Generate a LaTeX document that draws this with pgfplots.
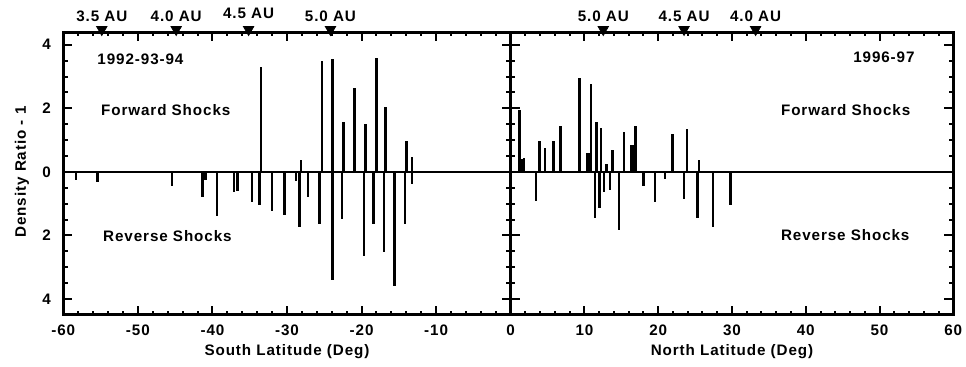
\documentclass[border=0pt]{standalone}
\usepackage{fontspec}
\setmainfont{Liberation Sans}[LetterSpace=6]
\usepackage{pgfplots}
\pgfplotsset{compat=1.18}
\newcommand{\ff}{\fontsize{7.6}{9}\selectfont\bfseries}

\pgfplotstableread{
x y
-58.3 -0.26
-55.4 -0.32
-45.4 -0.45
-41.3 -0.79
-40.97 -0.27
-39.4 -1.40
-37.1 -0.63
-36.6 -0.60
-34.7 -0.95
-33.7 -1.03
-33.5 3.30
-32.0 -1.23
-30.36 -1.37
-28.8 -0.28
-28.34 -1.74
-28.1 0.37
-27.2 -0.79
-25.65 -1.65
-25.3 3.48
-23.9 3.55
-23.9 -3.41
-22.6 -1.49
-22.4 1.58
-20.95 2.63
-19.65 -2.63
-19.5 1.50
-18.4 -1.65
-18.0 3.58
-17.0 -2.53
-16.8 2.05
-15.6 -3.60
-14.2 -1.65
-14.0 0.98
-13.25 0.46
-13.25 -0.39
}\south

\pgfplotstableread{
x y
1.17 1.95
1.49 0.40
1.80 0.45
3.43 -0.92
3.88 0.97
4.65 0.76
5.78 0.98
6.77 1.45
9.30 2.96
10.40 0.58
10.65 0.58
10.88 2.77
11.42 -1.44
11.65 1.58
12.00 -1.14
12.24 1.37
12.64 -0.63
13.00 0.26
13.45 -0.56
13.80 0.68
14.70 -1.84
15.35 1.24
16.40 0.86
16.60 0.86
16.90 1.45
17.97 -0.45
19.55 -0.95
20.90 -0.23
21.90 1.18
23.50 -0.84
23.90 1.35
25.30 -1.44
25.55 0.37
27.45 -1.74
29.80 -1.05
}\north

\pgfplotsset{
  panel/.style={
    scale only axis, height=141.5pt, ymin=-4.5, ymax=4.4,
    axis line style={line width=1.5pt},
    every tick/.style={black, line width=1pt},
    major tick length=4.5pt, minor tick length=2.2pt,
    tick align=inside,
    ytick={-4,-2,0,2,4},
    minor y tick num=3,
    minor x tick num=4,
    clip=false,
    tick label style={font=\ff},
    xticklabel style={anchor=base, yshift=-10.5pt},
    every axis x label/.style={at={(axis description cs:0.5,0)}, anchor=base, yshift=-20.5pt, font=\ff},
  },
  spikes/.style={ycomb, black, line width=1.3pt, mark=none},
  au/.style={only marks, mark=triangle*, mark size=3pt, black,
    mark options={rotate=180, fill=black},
    nodes near coords, point meta=explicit symbolic,
    every node near coord/.style={anchor=base, yshift=4pt, inner sep=0pt, font=\ff}},
}

\begin{document}
\begin{tikzpicture}
\path[use as bounding box] (0,0) rectangle (483pt,183.5pt);

\begin{axis}[panel, at={(31.65pt,26pt)}, anchor=south west, width=223.7pt,
  xmin=-60, xmax=0,
  xtick={-60,-50,-40,-30,-20,-10,0},
  xticklabels={-60,-50,-40,-30,-20,-10,{}},
  yticklabels={4,2,0,2,4},
  yticklabel style={xshift=-2.7pt},
  xlabel={South Latitude (Deg)}]
  \addplot[black, line width=1.2pt] coordinates {(-60,0) (0,0)};
  \addplot[spikes] table[x=x, y=y] {\south};
  \addplot[au] coordinates {(-54.84,4.48)[3.5 AU] (-44.86,4.48)[4.0 AU] (-24.17,4.48)[5.0 AU]};
  \addplot[au, every node near coord/.append style={yshift=1.3pt}] coordinates {(-35.15,4.48)[4.5 AU]};
  \node[anchor=base west, font=\ff, inner sep=0pt] at (axis cs:-55.47,3.37) {1992-93-94};
  \node[anchor=base west, font=\ff, inner sep=0pt] at (axis cs:-54.98,1.76) {Forward Shocks};
  \node[anchor=base west, font=\ff, inner sep=0pt] at (axis cs:-54.7,-2.18) {Reverse Shocks};
\end{axis}

\begin{axis}[panel, at={(255.35pt,26pt)}, anchor=south west, width=221.3pt,
  xmin=0, xmax=60,
  xtick={0,10,20,30,40,50,60},
  xticklabels={0,10,20,30,40,50,60},
  yticklabels={},
  xlabel={North Latitude (Deg)}]
  \addplot[black, line width=1.2pt] coordinates {(0,0) (60,0)};
  \addplot[spikes] table[x=x, y=y] {\north};
  \addplot[au] coordinates {(12.55,4.48)[5.0 AU] (23.5,4.48)[4.5 AU] (33.2,4.48)[4.0 AU]};
  \node[anchor=base east, font=\ff, inner sep=0pt] at (axis cs:54.8,3.45) {1996-97};
  \node[anchor=base west, font=\ff, inner sep=0pt] at (axis cs:36.6,1.78) {Forward Shocks};
  \node[anchor=base west, font=\ff, inner sep=0pt] at (axis cs:36.6,-2.17) {Reverse Shocks};
\end{axis}

\node[rotate=90, font=\ff] at (11pt,97.5pt) {Density Ratio - 1};
\end{tikzpicture}
\end{document}
